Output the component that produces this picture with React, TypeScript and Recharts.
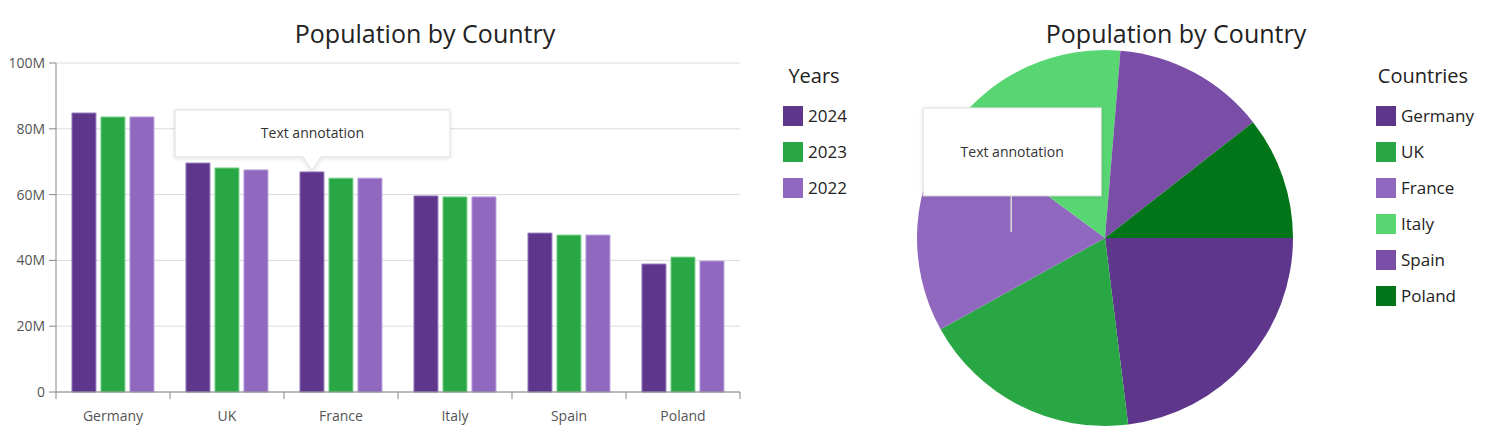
import { BarChart, Bar, XAxis, YAxis, CartesianGrid, PieChart, Pie, Cell } from "recharts";

const countries = ["Germany", "UK", "France", "Italy", "Spain", "Poland"];
const years = ["2024", "2023", "2022"];
const pop2024 = [84.8, 69.6, 66.9, 59.6, 48.3, 38.9];
const pop2023 = [83.6, 68.1, 65.0, 59.3, 47.7, 41.0];
const pop2022 = [83.6, 67.5, 65.0, 59.3, 47.7, 39.8];
const yTicks = [0, 20, 40, 60, 80, 100];

const yearColors = ["#5e368c", "#29a744", "#9068bf"];
const yearStrokes = ["#9a7fc0", "#7fd191", "#b9a0dc"];
const pieColors = ["#5e368c", "#29a744", "#9068bf", "#58d672", "#7a4ea7", "#017518"];

const barData = countries.map((c, i) => ({
  country: c,
  y2024: pop2024[i] * 1e6,
  y2023: pop2023[i] * 1e6,
  y2022: pop2022[i] * 1e6,
}));
const pieData = countries.map((c, i) => ({ name: c, value: pop2024[i] * 1e6 }));

const font = "'Segoe UI', 'Open Sans', sans-serif";

const BandTick = (props: any) => {
  const { x, y, payload, index } = props;
  const off = payload.offset || 0;
  return (
    <g>
      <line x1={x - off} x2={x - off} y1={y - 8} y2={y - 1} stroke="#888" />
      {index === countries.length - 1 && (
        <line x1={x + off} x2={x + off} y1={y - 8} y2={y - 1} stroke="#888" />
      )}
      <text x={x} y={y + 21} textAnchor="middle" fill="#555" fontSize={14} fontFamily={font}>
        {payload.value}
      </text>
    </g>
  );
};

// callout pinned to the top of the France 2024 bar
const BarCallout = (props: any) => {
  const { x, y, width, index } = props;
  if (index !== 2) return null;
  const cx = x + width / 2;
  const cy = y;
  const w = 275;
  const h = 47;
  const bx = cx - 137;
  const by = cy - 62;
  return (
    <g>
      <defs>
        <filter id="sh1" x="-10%" y="-30%" width="120%" height="160%">
          <feDropShadow dx="0" dy="1" stdDeviation="2" floodColor="#000" floodOpacity="0.12" />
        </filter>
      </defs>
      <path
        d={`M${bx},${by} h${w} v${h} H${cx + 9} L${cx},${cy - 1} L${cx - 9},${by + h} H${bx} Z`}
        fill="#fff"
        stroke="#ddd"
        filter="url(#sh1)"
      />
      <text x={bx + w / 2} y={by + h / 2 + 5} textAnchor="middle" fill="#333" fontSize={14} fontFamily={font}>
        Text annotation
      </text>
    </g>
  );
};

const PieCallout = (props: any) => {
  const { cx, cy, midAngle, outerRadius, index } = props;
  if (index !== 2) return null;
  const r = outerRadius / 2;
  const rad = (Math.PI / 180) * midAngle;
  const px = cx + r * Math.cos(rad);
  const py = cy - r * Math.sin(rad);
  const w = 178;
  const h = 88;
  const bx = px - 88;
  const by = py - 124;
  return (
    <g>
      <defs>
        <filter id="sh2" x="-10%" y="-20%" width="120%" height="140%">
          <feDropShadow dx="0" dy="1" stdDeviation="2" floodColor="#000" floodOpacity="0.12" />
        </filter>
      </defs>
      <line x1={px} x2={px} y1={by + h} y2={py} stroke="#ddd" strokeWidth={1.5} />
      <rect x={bx} y={by} width={w} height={h} fill="#fff" stroke="#ddd" filter="url(#sh2)" />
      <text x={bx + w / 2} y={by + h / 2 + 5} textAnchor="middle" fill="#333" fontSize={14} fontFamily={font}>
        Text annotation
      </text>
    </g>
  );
};

const Legend = ({ title, items, colors, left, titleCenter }: any) => (
  <div style={{ position: "absolute", left, top: 62, fontFamily: font, color: "#222" }}>
    <div style={{ position: "absolute", left: titleCenter - 100, width: 200, textAlign: "center", fontSize: 20, top: 0 }}>
      {title}
    </div>
    {items.map((it: string, i: number) => (
      <div key={it} style={{ position: "absolute", top: 42 + i * 36, left: 0, display: "flex", alignItems: "center", whiteSpace: "nowrap" }}>
        <div style={{ width: 20, height: 20, background: colors[i] }} />
        <span style={{ marginLeft: 5, fontSize: 17 }}>{it}</span>
      </div>
    ))}
  </div>
);

export default function App() {
  return (
    <div style={{ position: "absolute", left: 0, top: 0, width: 1488, height: 444, background: "#fff", fontFamily: font }}>
      <div style={{ position: "absolute", left: 0, top: 16, width: 850, textAlign: "center", fontSize: 25, color: "#222" }}>
        Population by Country
      </div>
      <div style={{ position: "absolute", left: 864, top: 16, width: 624, textAlign: "center", fontSize: 25, color: "#222" }}>
        Population by Country
      </div>

      <div style={{ position: "absolute", left: 0, top: 0 }}>
        <BarChart
          width={760}
          height={444}
          data={barData}
          margin={{ top: 63, right: 20, bottom: 22, left: 0 }}
          barCategoryGap="14%"
          barGap={5}
        >
          <CartesianGrid vertical={false} stroke="#dcdcdc" />
          <XAxis dataKey="country" tickLine={false} axisLine={{ stroke: "#888" }} tick={<BandTick />} height={30} interval={0} />
          <YAxis
            width={56}
            domain={[0, 100e6]}
            ticks={yTicks.map((t) => t * 1e6)}
            tickFormatter={(v: number) => (v === 0 ? "0" : `${v / 1e6}M`)}
            tick={{ fill: "#555", fontSize: 14, fontFamily: font }}
            tickLine={{ stroke: "#888" }}
            tickSize={7}
            tickMargin={4}
            axisLine={{ stroke: "#888" }}
          />
          <Bar dataKey="y2024" fill={yearColors[0]} stroke={yearStrokes[0]} strokeWidth={1} isAnimationActive={false} label={<BarCallout />} />
          <Bar dataKey="y2023" fill={yearColors[1]} stroke={yearStrokes[1]} strokeWidth={1} isAnimationActive={false} />
          <Bar dataKey="y2022" fill={yearColors[2]} stroke={yearStrokes[2]} strokeWidth={1} isAnimationActive={false} />
        </BarChart>
      </div>
      <Legend title="Years" items={years} colors={yearColors} left={783} titleCenter={31} />

      <div style={{ position: "absolute", left: 905, top: 38 }}>
        <PieChart width={400} height={400} margin={{ top: 0, right: 0, bottom: 0, left: 0 }}>
          <Pie
            data={pieData}
            dataKey="value"
            cx={200}
            cy={200}
            outerRadius={188}
            startAngle={0}
            endAngle={-360}
            stroke="none"
            label={<PieCallout />}
            labelLine={false}
            isAnimationActive={false}
          >
            {pieData.map((d, i) => (
              <Cell key={d.name} fill={pieColors[i]} />
            ))}
          </Pie>
        </PieChart>
      </div>
      <Legend title="Countries" items={countries} colors={pieColors} left={1376} titleCenter={47} />
    </div>
  );
}
